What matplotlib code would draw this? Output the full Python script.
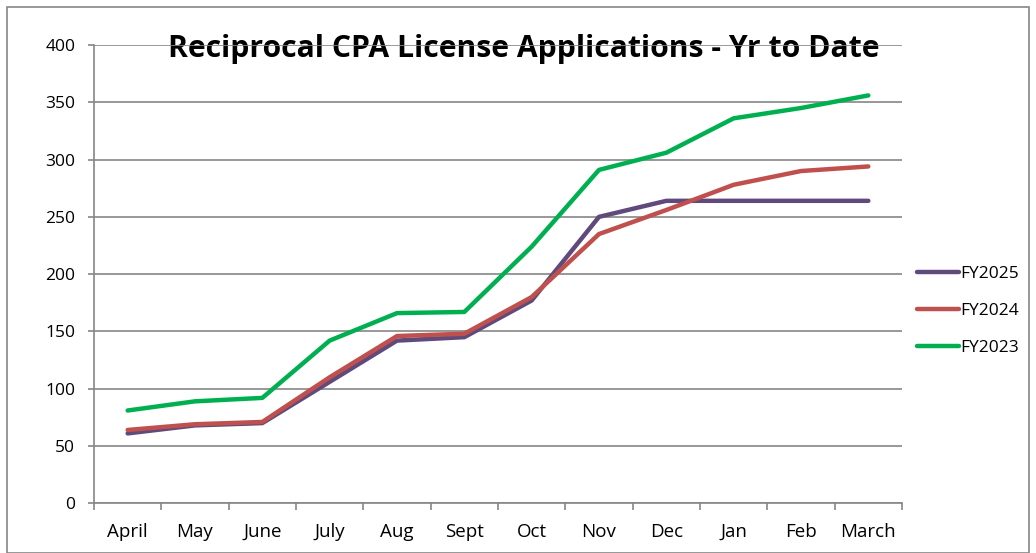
import matplotlib.pyplot as plt
from matplotlib.patches import Rectangle

plt.rcParams['font.family'] = ['Open Sans', 'DejaVu Sans']

# mois de l'exercice fiscal
months = ["April", "May", "June", "July", "Aug", "Sept", "Oct", "Nov", "Dec", "Jan", "Feb", "March"]

fy2025 = [61, 68, 70, 106, 142, 145, 177, 250, 264, 264, 264, 264]
fy2024 = [64, 69, 71, 110, 146, 148, 180, 235, 256, 278, 290, 294]
fy2023 = [81, 89, 92, 142, 166, 167, 224, 291, 306, 336, 345, 356]

series = [("FY2025", fy2025, "#604A7B"),
          ("FY2024", fy2024, "#C0504D"),
          ("FY2023", fy2023, "#00B050")]

fig = plt.figure(figsize=(10.36, 5.53), dpi=100)
ax = fig.add_axes([94 / 1036, 49.7 / 553, 808 / 1036, 458.3 / 553])

x = list(range(len(months)))
for name, vals, col in series:
    ax.plot(x, vals, color=col, lw=3.2, label=name, solid_capstyle='round', zorder=3)

ax.set_xlim(-0.5, len(months) - 0.5)
ax.set_ylim(0, 400)
ax.set_yticks(range(0, 401, 50))
ax.yaxis.grid(True, color="#868686", lw=1.2)
ax.set_axisbelow(True)

# graduations entre les catégories, étiquettes au centre
ax.set_xticks([i - 0.5 for i in range(len(months) + 1)])
ax.set_xticklabels([])
ax.set_xticks(x, minor=True)
ax.set_xticklabels(months, minor=True)
ax.tick_params(axis='x', which='minor', length=0, pad=14, labelsize=13.5)
ax.tick_params(axis='x', which='major', length=5, color="#868686", width=1.2)
ax.tick_params(axis='y', length=4.5, color="#868686", width=1.2, labelsize=12.5, pad=9)

for s in ["top", "right"]:
    ax.spines[s].set_visible(False)
for s in ["left", "bottom"]:
    ax.spines[s].set_color("#868686")
    ax.spines[s].set_linewidth(1.2)

ax.text(5.88, 389.5, "Reciprocal CPA License Applications - Yr to Date",
        ha='center', va='baseline', fontsize=21.7,
        fontweight='bold', zorder=0)

fig.legend(loc='center left', bbox_to_anchor=(910 / 1036, 1 - 311 / 553),
           frameon=False, fontsize=12.5, handlelength=2.4, handletextpad=0.1,
           labelspacing=1.2, borderaxespad=0)

fig.patches.append(Rectangle((7 / 1036, 0), 1022 / 1036, 1 - 7 / 553,
                             transform=fig.transFigure, fill=False,
                             edgecolor="#868686", lw=1.2))

fig.savefig("out.png", dpi=100)
